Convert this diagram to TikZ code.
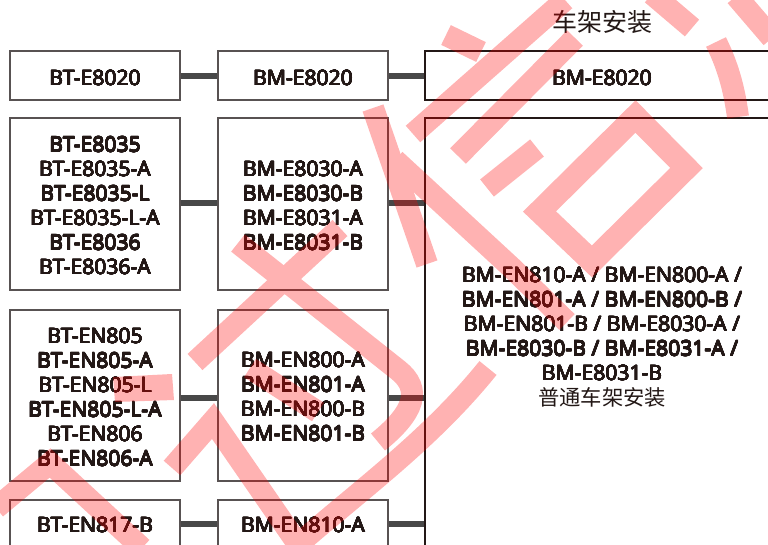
\documentclass[tikz,border=0pt]{standalone}
\usepackage{fontspec}
\usepackage{contour}
\contourlength{0.32pt}
\contournumber{16}
\setmainfont{Noto Sans}
\newfontfamily\labfont{Noto Sans}
\newfontfamily\cjk{Noto Sans CJK SC}
\definecolor{ink}{RGB}{35,24,22}
\definecolor{edge}{RGB}{88,82,82}
\definecolor{bar}{RGB}{72,72,72}
\newcommand\ml[1]{\contour{ink}{#1}}
\begin{document}
\begin{tikzpicture}[x=1pt,y=-1pt,
  box/.style={draw=edge, line width=1.1pt, minimum width=170pt, inner sep=0pt},
  lbl/.style={text=ink, align=center, inner sep=0pt, font=\labfont\fontsize{21.1}{24.5}\selectfont},
  conn/.style={draw=bar, line width=6pt},
  wm/.style={draw=red, line width=22pt, line cap=butt, line join=miter}]
\useasboundingbox (0,0) rectangle (768,544);
\clip (0,0) rectangle (768,544);
\fill[white] (0,0) rectangle (768,544);

% boxes
\node[box, minimum height=49pt] (a1) at (95,75.5) {};
\node[box, minimum height=49pt] (b1) at (303,75.5) {};
\node[box, minimum height=49pt, minimum width=354pt, draw=ink] (R1) at (602,75.5) {};
\node[box, minimum height=172pt] (a2) at (95,204) {};
\node[box, minimum height=172pt] (b2) at (303,204) {};
\node[box, minimum height=442pt, minimum width=354pt, draw=ink] (R2) at (602,339) {};
\node[box, minimum height=171pt] (a3) at (95,395.5) {};
\node[box, minimum height=171pt] (b3) at (303,395.5) {};
\node[box, minimum height=48pt] (a4) at (95,524) {};
\node[box, minimum height=48pt] (b4) at (303,524) {};

% connectors
\draw[conn] (a1.east) -- (b1.west);
\draw[conn] (b1.east) -- (R1.west);
\draw[conn] ([yshift=1pt]a2.east) -- ([yshift=1pt]b2.west);
\draw[conn] ([yshift=1pt]b2.east) -- ([yshift=1pt]b2.east -| R2.west);
\draw[conn] ([yshift=-2.5pt]a3.east) -- ([yshift=-2.5pt]b3.west);
\draw[conn] ([yshift=-2.5pt]b3.east) -- ([yshift=-2.5pt]b3.east -| R2.west);
\draw[conn] (a4.east) -- (b4.west);
\draw[conn] (b4.east) -- (b4.east -| R2.west);

% texts
\node[text=ink, inner sep=0pt, font=\cjk\fontsize{25}{30}\selectfont] (title) at (602,22) {车架安装};
\node[lbl] (ta1) at (95,78) {\ml{BT-E8020}};
\node[lbl] (tb1) at (303,78) {\ml{BM-E8020}};
\node[lbl] (tR1) at (602,78) {\ml{BM-E8020}};
\node[lbl] (ta2) at (95,206) {\ml{BT-E8035}\\\ml{BT-E8035-A}\\\ml{BT-E8035-L}\\\ml{BT-E8035-L-A}\\\ml{BT-E8036}\\\ml{BT-E8036-A}};
\node[lbl] (tb2) at (303,206) {\ml{BM-E8030-A}\\\ml{BM-E8030-B}\\\ml{BM-E8031-A}\\\ml{BM-E8031-B}};
\node[lbl] (ta3) at (95,397.5) {\ml{BT-EN805}\\\ml{BT-EN805-A}\\\ml{BT-EN805-L}\\\ml{BT-EN805-L-A}\\\ml{BT-EN806}\\\ml{BT-EN806-A}};
\node[lbl] (tb3) at (303,397) {\ml{BM-EN800-A}\\\ml{BM-EN801-A}\\\ml{BM-EN800-B}\\\ml{BM-EN801-B}};
\node[lbl] (ta4) at (95,525) {\ml{BT-EN817-B}};
\node[lbl] (tb4) at (303,525) {\ml{BM-EN810-A}};
\node[lbl] (tR2) at (602,337) {\ml{BM-EN810-A / BM-EN800-A /}\\\ml{BM-EN801-A / BM-EN800-B /}\\\ml{BM-EN801-B / BM-E8030-A /}\\\ml{BM-E8030-B / BM-E8031-A /}\\\ml{BM-E8031-B}\\{\cjk\fontsize{21.3}{24.5}\selectfont 普通车架安装}};

% watermark
\begin{scope}[transparency group, opacity=0.3]
\draw[wm] (565,0) -- (413,134);
\draw[wm] (446,35) -- (481,52);
\draw[wm] (458,156) -- (575,38);
\draw[wm] (487,188) -- (537,148);
\draw[wm] (373,108) -- (427,264);
\draw[wm] (395,160) -- (512,268) -- (567,322);
\draw[wm] (652,-6) -- (692,28);
\draw[wm] (736,-4) -- (772,38);
\draw[wm] (716,42) .. controls (730,70) and (735,95) .. (738,117);
\draw[wm, line width=23pt] (635.5,116.5) -- (686.5,168) -- (592,261.5) -- (539.5,211.5) -- cycle;
\draw[wm] (238,243) -- (398,370) .. controls (422,389) and (415,412) .. (378,442);
\draw[wm] (340,228) -- (195,362);
\draw[wm] (250,368) -- (318,412);
\draw[wm] (488,368) .. controls (430,440) and (360,490) .. (294,548);
\draw[wm] (172,468) -- (213,421) -- (302,550);
\draw[wm] (-4,508) -- (50,463) -- (142,548);
\fill[red] (113,377) -- (172,374) -- (174,400) -- (115,402) -- cycle;
\end{scope}
\end{tikzpicture}
\end{document}
